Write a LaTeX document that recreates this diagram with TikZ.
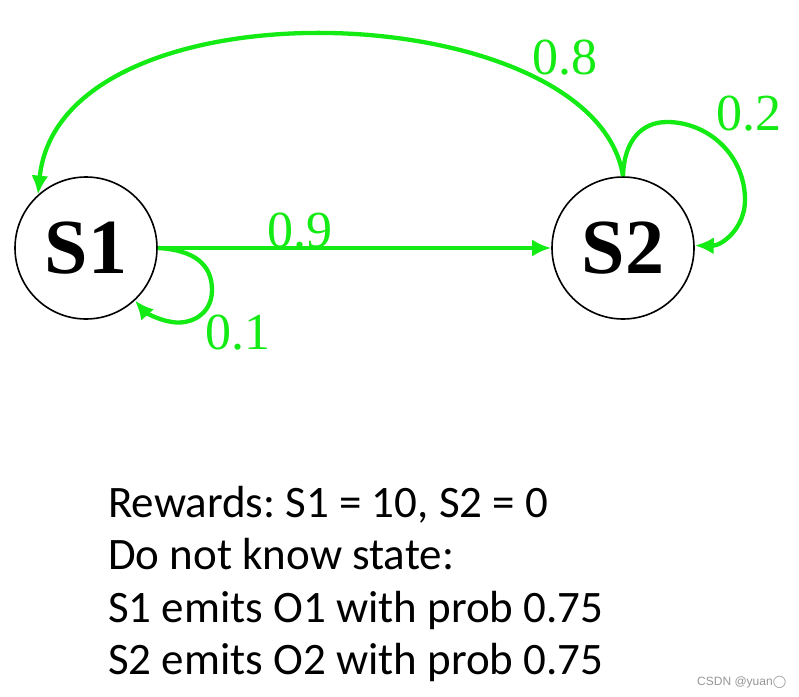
\documentclass[tikz,border=0pt]{standalone}
\usepackage{fontspec}
\setmainfont{Liberation Serif}
\newfontfamily\bodyfont{Carlito}
\newfontfamily\markfont{Liberation Sans}
\newfontfamily\symfont{DejaVu Sans}
\usetikzlibrary{arrows.meta}
\definecolor{edgegreen}{RGB}{20,235,20}
\definecolor{markgray}{RGB}{150,150,150}
\frenchspacing
\begin{document}
\begin{tikzpicture}[x=1pt,y=-1pt,
 state/.style={circle,draw=black,line width=1.6pt,minimum size=142pt,inner sep=0pt,font=\fontsize{78}{78}\selectfont\bfseries},
 edge/.style={draw=edgegreen,line width=4.3pt,-{Latex[length=19pt,width=17pt]}},
 prob/.style={text=edgegreen,inner sep=0pt,font=\fontsize{52}{52}\selectfont},
 body/.style={anchor=base west,inner sep=0pt,font=\bodyfont\fontsize{45}{45}\selectfont\frenchspacing},
]
\useasboundingbox[fill=white] (0,0) rectangle (799,696);
\node[state] (s1) at (86,248) {S1};
\node[state] (s2) at (623,248) {S2};

\draw[edge] (s1.east) -- (s2.west);
\draw[edge] (s1.east) .. controls (195,250) and (212,265) .. (212,290)
  .. controls (212,315) and (190,325) .. (172,322)
  .. controls (158,320) and (145,312) .. (s1.-47);
\draw[edge] (s2.north) .. controls (595,-5) and (60,-25) .. (s1.132);
\draw[edge] (s2.north) .. controls (624,140) and (642,122) .. (667,122)
  .. controls (708,122) and (745,155) .. (745,200)
  .. controls (745,228) and (722,246) .. (s2.2);

\node[prob] (l09) at (300,231) {0.9};
\node[prob] (l01) at (238,333) {0.1};
\node[prob] (l08) at (565,58) {0.8};
\node[prob] (l02) at (749,114) {0.2};

\node[body] (t1) at (108,517) {Rewards: S1 = 10, S2 = 0};
\node[body] (t2) at (108,569.5) {Do not know state:};
\node[body] (t3) at (108,622) {S1 emits O1 with prob 0.75};
\node[body] (t4) at (108,674.5) {S2 emits O2 with prob 0.75};

\node[anchor=base west,inner sep=0pt,text=markgray,font=\markfont\fontsize{12}{12}\selectfont] (wm) at (697,685) {CSDN @yuan{\symfont ◯}};
\end{tikzpicture}
\end{document}
